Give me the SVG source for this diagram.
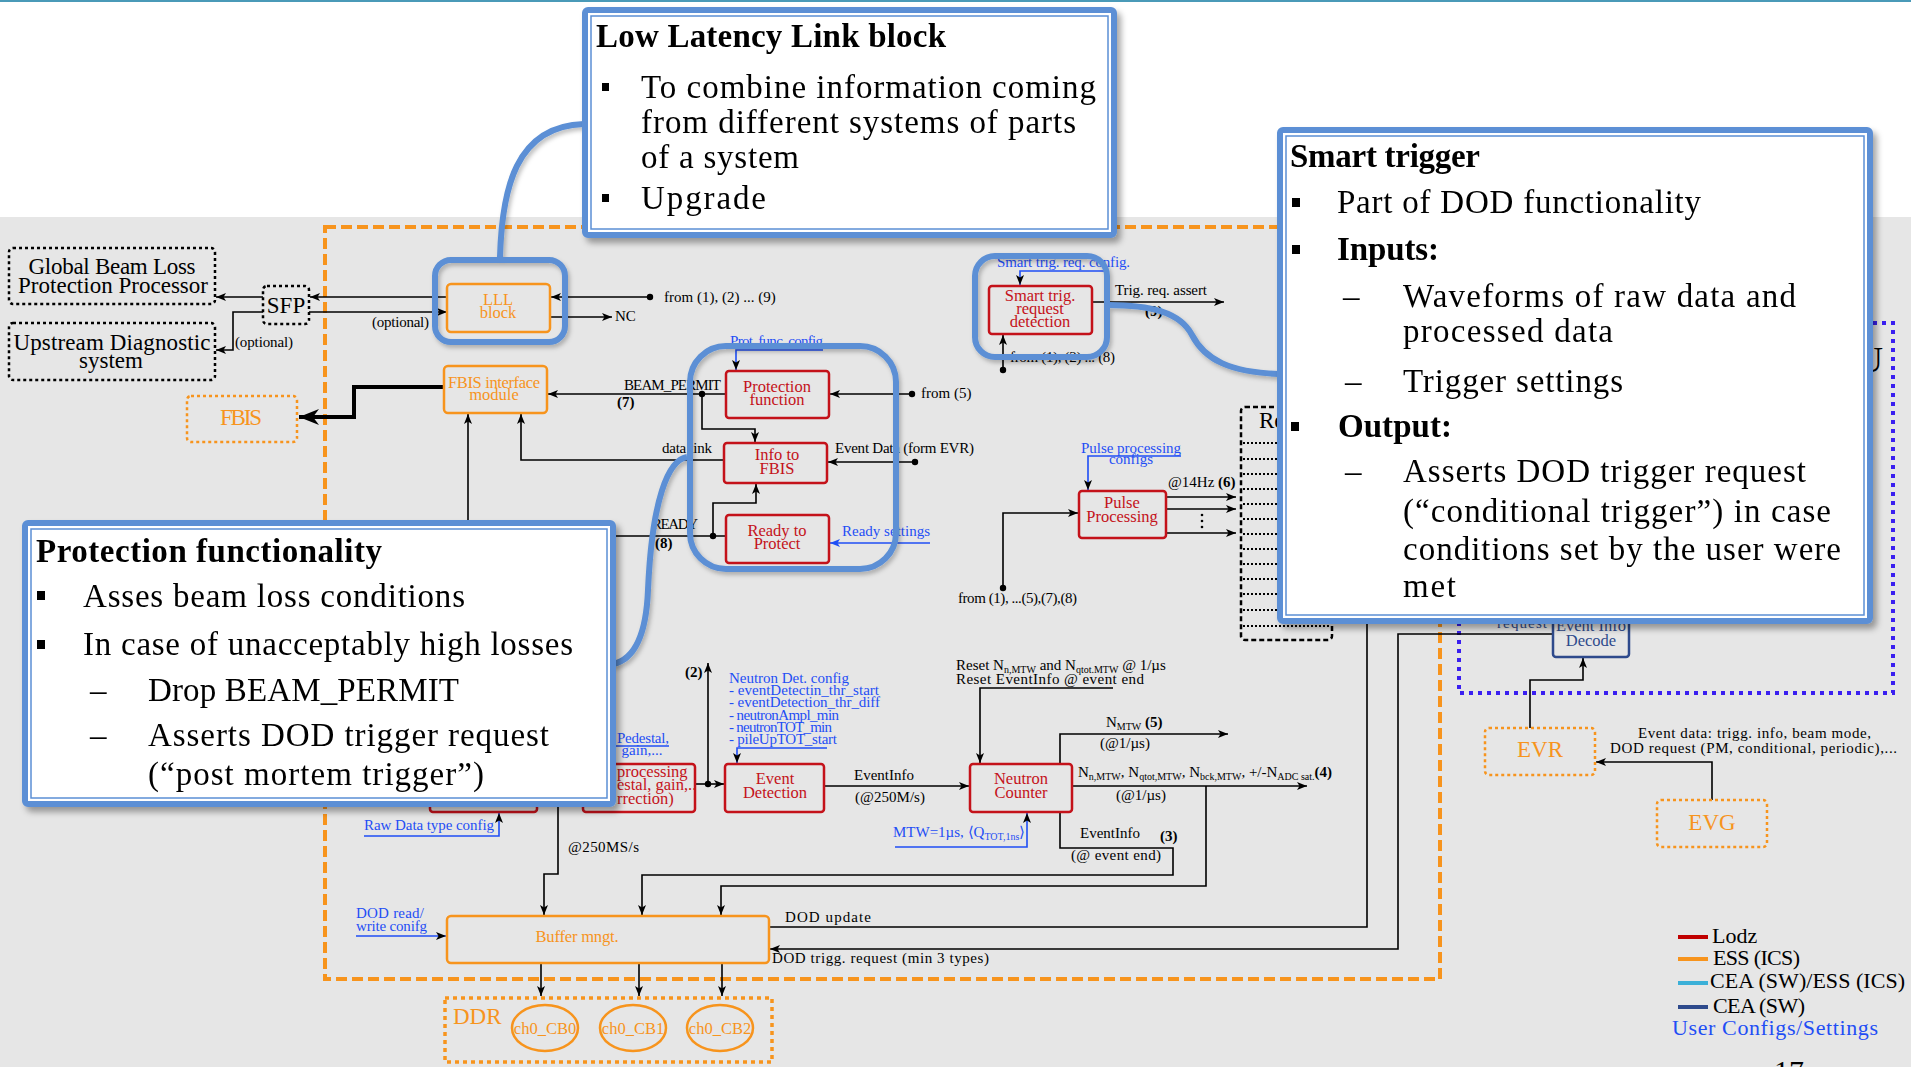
<svg xmlns="http://www.w3.org/2000/svg" width="1911" height="1067" viewBox="0 0 1911 1067">
<style>
text{font-family:"Liberation Serif","Times New Roman",serif;fill:#000}
.l{font-size:15px}
.s{font-size:10px}
.bx{font-size:16.5px;text-anchor:middle}
.big{font-size:23px;text-anchor:middle}
.st{text-anchor:start}
.red{fill:#c4121a}
.org{fill:#f7941d}
.cfg{fill:#1f4ef5}
.dkb{fill:#2e4a8c}
.co{font-size:33px}
.b{font-weight:bold}
.ln{stroke:#000;stroke-width:1.6;fill:none}
.lnb{stroke:#1f4ef5;stroke-width:1.6;fill:none}
.rbox{fill:none;stroke:#c4121a;stroke-width:2.5}
.obox{fill:none;stroke:#f7941d;stroke-width:2.5}
.odot{fill:none;stroke:#f7941d;stroke-width:2.5;stroke-dasharray:3 3}
.kdot{fill:none;stroke:#000;stroke-width:2.5;stroke-dasharray:3 3}
.hl{fill:none;stroke:#5b8fd5;stroke-width:6}
.cout{fill:#fff;stroke:#5b8fd5;stroke-width:6}
.cin{fill:#fff;stroke:#5b8fd5;stroke-width:1.5}
</style>
<defs>
<marker id="ar" markerUnits="userSpaceOnUse" markerWidth="11" markerHeight="9" refX="10" refY="4" orient="auto">
<path d="M0,0 L10,4 L0,8 L2.5,4 z" fill="#000"/>
</marker>
<marker id="arb" markerUnits="userSpaceOnUse" markerWidth="11" markerHeight="9" refX="10" refY="4" orient="auto">
<path d="M0,0 L10,4 L0,8 L2.5,4 z" fill="#1f4ef5"/>
</marker>
<marker id="arbig" markerUnits="userSpaceOnUse" markerWidth="22" markerHeight="18" refX="20" refY="8" orient="auto">
<path d="M0,0 L20,8 L0,16 L6,8 z" fill="#000"/>
</marker>
<filter id="sh" x="-5%" y="-5%" width="112%" height="115%">
<feDropShadow dx="4" dy="5" stdDeviation="3" flood-color="#000" flood-opacity="0.35"/>
</filter>
<filter id="sh2" x="-10%" y="-10%" width="125%" height="125%">
<feDropShadow dx="2" dy="3" stdDeviation="2" flood-color="#000" flood-opacity="0.25"/>
</filter>
</defs>

<!-- page background -->
<rect x="0" y="0" width="1911" height="1067" fill="#fff"/>
<rect x="0" y="217" width="1911" height="850" fill="#e6e6e6"/>
<rect x="0" y="0" width="1911" height="2" fill="#4a9ab8"/>

<!-- frames -->
<g id="frames">
<rect x="325" y="227" width="1115" height="752" fill="none" stroke="#f7941d" stroke-width="4" stroke-dasharray="11 5"/>
<rect x="1459" y="323" width="434" height="370" fill="none" stroke="#3a1ff0" stroke-width="4" stroke-dasharray="4 5"/>
</g>

<!-- connectors -->
<g id="connectors">
<path class="ln" d="M447,297 H310" marker-end="url(#ar)"/>
<path class="ln" d="M263,297 H216" marker-end="url(#ar)"/>
<path class="ln" d="M309,312 H447" marker-end="url(#ar)"/>
<path class="ln" d="M263,312 H233 V350 H216" marker-end="url(#ar)"/>
<path class="ln" d="M650,297 H551" marker-end="url(#ar)"/>
<circle cx="650" cy="297" r="3.2"/>
<path class="ln" d="M550,317 H612" marker-end="url(#ar)"/>
<path d="M444,387 H354 V417 H299" fill="none" stroke="#000" stroke-width="4" marker-end="url(#arbig)"/>
<path class="ln" d="M468,560 V414" marker-end="url(#ar)"/>
<path class="ln" d="M724,460 H521 V414" marker-end="url(#ar)"/>
<path class="ln" d="M726,394 H548" marker-end="url(#ar)"/>
<circle cx="702" cy="394" r="3.2"/>
<path class="ln" d="M702,394 V429 H755 V442" marker-end="url(#ar)"/>
<path class="ln" d="M912,394 H830" marker-end="url(#ar)"/>
<circle cx="912" cy="394" r="3.2"/>
<path class="ln" d="M915,462 H828" marker-end="url(#ar)"/>
<circle cx="915" cy="462" r="3.2"/>
<path class="ln" d="M726,536 H560"/>
<circle cx="713" cy="536" r="3.2"/>
<path class="ln" d="M713,536 V503 H756 V484" marker-end="url(#ar)"/>
<path class="lnb" d="M930,543 H830" marker-end="url(#arb)"/>
<path class="lnb" d="M823,350 H736 V370" marker-end="url(#ar)"/>
<path class="lnb" d="M1105,271 H1020 V285" marker-end="url(#ar)"/>
<path class="ln" d="M1092,302 H1224" marker-end="url(#ar)"/>
<path class="ln" d="M1003,370 V335" marker-end="url(#ar)"/>
<circle cx="1003" cy="370" r="3.2"/>
<path class="lnb" d="M1181,456 H1088 V490" marker-end="url(#ar)"/>
<path class="ln" d="M1003,588 V513 H1078" marker-end="url(#ar)"/>
<circle cx="1003" cy="588" r="3.2"/>
<path class="ln" d="M1166,497 H1236" marker-end="url(#ar)"/>
<path class="ln" d="M1166,509 H1236" marker-end="url(#ar)"/>
<path class="ln" d="M1166,533 H1236" marker-end="url(#ar)"/>
<circle cx="1202" cy="515" r="1.3"/><circle cx="1202" cy="521" r="1.3"/><circle cx="1202" cy="527" r="1.3"/>
<path class="ln" d="M695,784 H724" marker-end="url(#ar)"/>
<circle cx="708" cy="784" r="3.2"/>
<path class="ln" d="M708,784 V663" marker-end="url(#ar)"/>
<path class="lnb" d="M827,748 H737 V763" marker-end="url(#ar)"/>
<path class="ln" d="M824,786 H969" marker-end="url(#ar)"/>
<path class="ln" d="M1113,688 H980 V763" marker-end="url(#ar)"/>
<path class="lnb" d="M895,847 H1027 V813" marker-end="url(#ar)"/>
<path class="ln" d="M1060,764 V734 H1228" marker-end="url(#ar)"/>
<path class="ln" d="M1072,786 H1307" marker-end="url(#ar)"/>
<path class="ln" d="M1060,812 V848 H1173 V875 H642 V915" marker-end="url(#ar)"/>
<path class="ln" d="M1206,786 V886 H721 V915" marker-end="url(#ar)"/>
<path class="ln" d="M558,807 V874 H544 V915" marker-end="url(#ar)"/>
<path class="lnb" d="M669,746 H616"/>
<path class="lnb" d="M364,836 H499 V813" marker-end="url(#ar)"/>
<path class="lnb" d="M356,936 H446" marker-end="url(#ar)"/>
<path class="ln" d="M769,927 H1367 V620"/>
<path class="ln" d="M1553,634 H1398 V949 H770" marker-end="url(#ar)"/>
<path class="ln" d="M541,963 V996" marker-end="url(#ar)"/>
<path class="ln" d="M639,963 V996" marker-end="url(#ar)"/>
<path class="ln" d="M722,963 V996" marker-end="url(#ar)"/>
<path class="ln" d="M1712,800 V762 H1596" marker-end="url(#ar)"/>
<path class="ln" d="M1530,728 V680 H1583 V658" marker-end="url(#ar)"/>
</g>

<!-- connector labels -->
<g id="labels">
<text class="l" x="664" y="302">from (1), (2) ... (9)</text>
<text class="l" x="615" y="321">NC</text>
<text class="l" x="372" y="327" textLength="57">(optional)</text>
<text class="l" x="235" y="347" textLength="58">(optional)</text>
<text class="l" x="624" y="390" textLength="97">BEAM_PERMIT</text>
<text class="l b" x="617" y="407">(7)</text>
<text class="l" x="662" y="453" textLength="50">data link</text>
<text class="l" x="835" y="453" textLength="139">Event Data (form EVR)</text>
<text class="l" x="921" y="398">from (5)</text>
<text class="l" x="652" y="529" textLength="46">READY</text>
<text class="l b" x="655" y="548">(8)</text>
<text class="l cfg" x="842" y="536" textLength="88">Ready settings</text>
<text class="l cfg" x="730" y="346" textLength="93">Prot. func. config</text>
<text class="l cfg" x="997" y="267" textLength="133">Smart trig. req. config.</text>
<text class="l" x="1115" y="295" textLength="92">Trig. req. assert</text>
<text class="l b" x="1145" y="316">(9)</text>
<text class="l" x="1010" y="362" textLength="105">from (1), (2) ... (8)</text>
<text class="l cfg" x="1131" y="453" text-anchor="middle" textLength="100">Pulse processing</text>
<text class="l cfg" x="1131" y="464" text-anchor="middle">configs</text>
<text class="l" x="1168" y="487">@14Hz <tspan class="b">(6)</tspan></text>
<text class="l" x="958" y="603" textLength="119">from (1), ...(5),(7),(8)</text>
<text class="l b" x="685" y="677">(2)</text>
<text class="l cfg" x="729" y="683" textLength="120">Neutron Det. config</text>
<text class="l cfg" x="729" y="695" textLength="150">- eventDetectin_thr_start</text>
<text class="l cfg" x="729" y="707" textLength="151">- eventDetection_thr_diff</text>
<text class="l cfg" x="729" y="720" textLength="110">- neutronAmpl_min</text>
<text class="l cfg" x="729" y="732" textLength="103">- neutronTOT_min</text>
<text class="l cfg" x="729" y="744" textLength="108">- pileUpTOT_start</text>
<text class="l" x="956" y="670">Reset N<tspan class="s" dy="3">n,MTW</tspan><tspan dy="-3"> and N</tspan><tspan class="s" dy="3">qtot.MTW</tspan><tspan dy="-3"> @ 1/µs</tspan></text>
<text class="l" x="956" y="684" textLength="188">Reset EventInfo @ event end</text>
<text class="l" x="854" y="780" textLength="60">EventInfo</text>
<text class="l" x="855" y="802" textLength="70">(@250M/s)</text>
<text class="l cfg" x="893" y="837">MTW=1µs, ⟨Q<tspan class="s" dy="3">TOT,1ns</tspan><tspan dy="-3">⟩</tspan></text>
<text class="l" x="1106" y="727">N<tspan class="s" dy="3">MTW</tspan><tspan dy="-3" class="b">  (5)</tspan></text>
<text class="l" x="1100" y="748">(@1/µs)</text>
<text class="l" x="1078" y="777">N<tspan class="s" dy="3">n,MTW</tspan><tspan dy="-3">, N</tspan><tspan class="s" dy="3">qtot,MTW</tspan><tspan dy="-3">, N</tspan><tspan class="s" dy="3">bck,MTW</tspan><tspan dy="-3">, +/-N</tspan><tspan class="s" dy="3">ADC sat.</tspan><tspan dy="-3" class="b">(4)</tspan></text>
<text class="l" x="1116" y="800">(@1/µs)</text>
<text class="l" x="1080" y="838">EventInfo</text>
<text class="l b" x="1160" y="841">(3)</text>
<text class="l" x="1071" y="860" textLength="90">(@ event end)</text>
<text class="l" x="568" y="852" textLength="71">@250MS/s</text>
<text class="l cfg" x="617" y="743" textLength="52">Pedestal,</text>
<text class="l cfg" x="642" y="755" text-anchor="middle">gain,...</text>
<text class="l cfg" x="364" y="830" textLength="130">Raw Data type config</text>
<text class="l cfg" x="356" y="918" textLength="68">DOD read/</text>
<text class="l cfg" x="356" y="931" textLength="71">write conifg</text>
<text class="l" x="785" y="922" textLength="86">DOD update</text>
<text class="l" x="772" y="963" textLength="217">DOD trigg. request (min 3 types)</text>
<text class="l" x="1638" y="738" textLength="233">Event data: trigg. info, beam mode,</text>
<text class="l" x="1610" y="753" textLength="287">DOD request (PM, conditional, periodic),...</text>
</g>

<!-- nodes -->
<g id="global-blpp">
<rect class="kdot" x="9" y="248" width="206" height="56" rx="4"/>
<text class="big" x="112" y="274" textLength="167">Global Beam Loss</text>
<text class="big" x="113" y="293" textLength="190">Protection Processor</text>
</g>
<g id="upstream">
<rect class="kdot" x="9" y="323" width="206" height="57" rx="4"/>
<text class="big" x="112" y="350" textLength="197">Upstream Diagnostic</text>
<text class="big" x="111" y="368">system</text>
</g>
<g id="sfp">
<rect class="kdot" x="263" y="286" width="46" height="38" rx="4"/>
<text class="big" x="286" y="313" font-size="22">SFP</text>
</g>
<g id="fbis">
<rect class="odot" x="187" y="396" width="110" height="46" rx="4"/>
<text class="big org" x="241" y="425" textLength="42">FBIS</text>
</g>
<g id="lll-block">
<rect class="obox" x="447" y="284" width="103" height="48" rx="4"/>
<text class="bx org" x="498" y="305">LLL</text>
<text class="bx org" x="498" y="318">block</text>
</g>
<g id="fbis-interface">
<rect class="obox" x="444" y="366" width="103" height="47" rx="4"/>
<text class="bx org" x="494" y="388" font-size="16" textLength="92">FBIS interface</text>
<text class="bx org" x="494" y="400" font-size="16">module</text>
</g>
<g id="protection-function">
<rect class="rbox" x="726" y="371" width="103" height="47" rx="3"/>
<text class="bx red" x="777" y="392">Protection</text>
<text class="bx red" x="777" y="405">function</text>
</g>
<g id="info-to-fbis">
<rect class="rbox" x="724" y="443" width="103" height="40" rx="3"/>
<text class="bx red" x="777" y="460">Info to</text>
<text class="bx red" x="777" y="474">FBIS</text>
</g>
<g id="ready-to-protect">
<rect class="rbox" x="726" y="515" width="103" height="48" rx="3"/>
<text class="bx red" x="777" y="536">Ready to</text>
<text class="bx red" x="777" y="549">Protect</text>
</g>
<g id="smart-trig-detection">
<rect class="rbox" x="989" y="286" width="103" height="48" rx="3"/>
<text class="bx red" x="1040" y="301">Smart trig.</text>
<text class="bx red" x="1040" y="314">request</text>
<text class="bx red" x="1040" y="327">detection</text>
</g>
<g id="pulse-processing">
<rect class="rbox" x="1079" y="491" width="87" height="47" rx="3"/>
<text class="bx red" x="1122" y="508">Pulse</text>
<text class="bx red" x="1122" y="522">Processing</text>
</g>
<g id="registers">
<rect x="1241" y="407" width="91" height="233" rx="4" fill="none" stroke="#000" stroke-width="2.5" stroke-dasharray="5 3"/>
<text class="big st" x="1259" y="428">Re</text>
<g stroke="#000" stroke-width="2" stroke-dasharray="2 2">
<path d="M1243,443 H1330 M1243,459 H1330 M1243,474 H1330 M1243,489 H1330 M1243,504 H1330 M1243,519 H1330 M1243,534 H1330 M1243,549 H1330 M1243,564 H1330 M1243,579 H1330 M1243,594 H1330 M1243,610 H1330 M1243,626 H1330"/>
</g>
</g>
<g id="raw-data">
<rect class="rbox" x="430" y="764" width="107" height="48" rx="3"/>
</g>
<g id="pre-processing">
<rect class="rbox" x="583" y="764" width="112" height="48" rx="3"/>
<text class="bx red st" x="617" y="777">processing</text>
<text class="bx red st" x="617" y="790">estal, gain,..</text>
<text class="bx red st" x="617" y="804">rrection)</text>
</g>
<g id="event-detection">
<rect class="rbox" x="725" y="764" width="99" height="48" rx="3"/>
<text class="bx red" x="775" y="784">Event</text>
<text class="bx red" x="775" y="798">Detection</text>
</g>
<g id="neutron-counter">
<rect class="rbox" x="970" y="764" width="102" height="48" rx="3"/>
<text class="bx red" x="1021" y="784">Neutron</text>
<text class="bx red" x="1021" y="798">Counter</text>
</g>
<g id="buffer-mngt">
<rect class="obox" x="447" y="916" width="322" height="47" rx="4"/>
<text class="bx org" x="577" y="942" textLength="83">Buffer mngt.</text>
</g>
<g id="ddr">
<rect x="445" y="998" width="327" height="64" fill="none" stroke="#f7941d" stroke-width="3.5" stroke-dasharray="4 4"/>
<text class="big org st" x="453" y="1024">DDR</text>
<ellipse cx="545" cy="1028" rx="33" ry="23" class="obox"/>
<ellipse cx="633" cy="1028" rx="33" ry="23" class="obox"/>
<ellipse cx="720" cy="1028" rx="33" ry="23" class="obox"/>
<text class="bx org" x="545" y="1034" font-size="16">ch0_CB0</text>
<text class="bx org" x="633" y="1034" font-size="16">ch0_CB1</text>
<text class="bx org" x="720" y="1034" font-size="16">ch0_CB2</text>
</g>
<g id="event-info-decode">
<text class="l dkb" x="1497" y="628" textLength="50">request</text>
<rect x="1553" y="605" width="76" height="52" rx="3" fill="none" stroke="#2e4a8c" stroke-width="2.5"/>
<text class="bx dkb" x="1591" y="631">Event Info</text>
<text class="bx dkb" x="1591" y="646">Decode</text>
</g>
<text x="1883" y="372" font-size="36" text-anchor="end" fill="#3a1ff0">U</text>
<g id="evr">
<rect class="odot" x="1485" y="728" width="110" height="47" rx="4"/>
<text class="big org" x="1540" y="757">EVR</text>
</g>
<g id="evg">
<rect class="odot" x="1657" y="800" width="110" height="47" rx="4"/>
<text class="big org" x="1712" y="830">EVG</text>
</g>

<!-- highlight rings and their leaders -->
<g id="highlights" filter="url(#sh2)">
<rect class="hl" x="435" y="260" width="130" height="82" rx="16"/>
<rect class="hl" x="690" y="346" width="206" height="223" rx="36"/>
<rect class="hl" x="975" y="256" width="132" height="101" rx="20"/>
<path class="hl" stroke-width="5" d="M500,257 C502,190 515,126 584,124"/>
<path class="hl" stroke-width="5" d="M1108,305 C1150,305 1180,312 1192,335 C1205,360 1230,372 1278,374"/>
<path class="hl" stroke-width="5" d="M687,457 C668,460 652,500 648,590 C646,640 632,660 613,664"/>
</g>

<!-- callouts -->
<g id="callout-lll" filter="url(#sh)">
<rect class="cout" x="585" y="10" width="529" height="225" rx="3"/>
<rect class="cin" x="591" y="16" width="517" height="213"/>
<text class="co b" x="596" y="47" textLength="350">Low Latency Link block</text>
<rect x="602" y="83" width="7" height="8"/>
<text class="co" x="641" y="98" textLength="455">To combine information coming</text>
<text class="co" x="641" y="133" textLength="435">from different systems of parts</text>
<text class="co" x="641" y="168" textLength="158">of a system</text>
<rect x="602" y="194" width="7" height="8"/>
<text class="co" x="641" y="209" textLength="125">Upgrade</text>
</g>
<g id="callout-smart-trigger" filter="url(#sh)">
<rect class="cout" x="1280" y="130" width="590" height="491" rx="3"/>
<rect class="cin" x="1286" y="136" width="578" height="479"/>
<text class="co b" x="1290" y="167" textLength="190">Smart trigger</text>
<rect x="1292" y="198" width="8" height="9"/>
<text class="co" x="1337" y="213" textLength="364">Part of DOD functionality</text>
<rect x="1292" y="245" width="8" height="9"/>
<text class="co b" x="1337" y="260" textLength="102">Inputs:</text>
<text class="co" x="1343" y="307">–</text>
<text class="co" x="1403" y="307" textLength="393">Waveforms of raw data and</text>
<text class="co" x="1403" y="342" textLength="210">processed data</text>
<text class="co" x="1345" y="392">–</text>
<text class="co" x="1403" y="392" textLength="220">Trigger settings</text>
<rect x="1291" y="422" width="8" height="9"/>
<text class="co b" x="1338" y="437" textLength="114">Output:</text>
<text class="co" x="1345" y="482">–</text>
<text class="co" x="1403" y="482" textLength="403">Asserts DOD trigger request</text>
<text class="co" x="1403" y="522" textLength="428">(“conditional trigger”)  in case</text>
<text class="co" x="1403" y="560" textLength="438">conditions set by the user were</text>
<text class="co" x="1403" y="597" textLength="53">met</text>
</g>
<g id="callout-protection" filter="url(#sh)">
<rect class="cout" x="25" y="523" width="588" height="281" rx="3"/>
<rect class="cin" x="31" y="529" width="576" height="269"/>
<text class="co b" x="36" y="562" textLength="346">Protection functionality</text>
<rect x="37" y="591" width="8" height="9"/>
<text class="co" x="83" y="607" textLength="382">Asses beam loss conditions</text>
<rect x="37" y="640" width="8" height="9"/>
<text class="co" x="83" y="655" textLength="490">In case of unacceptably high losses</text>
<text class="co" x="90" y="701">–</text>
<text class="co" x="148" y="701" textLength="311">Drop BEAM_PERMIT</text>
<text class="co" x="90" y="746">–</text>
<text class="co" x="148" y="746" textLength="401">Asserts DOD trigger request</text>
<text class="co" x="148" y="785" textLength="336">(“post mortem trigger”)</text>
</g>

<!-- legend -->
<g id="legend">
<path d="M1678,937 H1708" stroke="#c00000" stroke-width="4"/>
<path d="M1678,959 H1708" stroke="#f7941d" stroke-width="4"/>
<path d="M1678,983 H1708" stroke="#3bb0d8" stroke-width="4"/>
<path d="M1678,1007 H1708" stroke="#2e4a8c" stroke-width="4"/>
<text x="1712" y="943" font-size="22">Lodz</text>
<text x="1713" y="965" font-size="22" textLength="87">ESS (ICS)</text>
<text x="1710" y="988" font-size="22" textLength="195">CEA (SW)/ESS (ICS)</text>
<text x="1713" y="1013" font-size="22" textLength="92">CEA (SW)</text>
<text class="cfg" x="1672" y="1035" font-size="22" textLength="206">User Configs/Settings</text>
<text x="1774" y="1081" font-size="30" fill="#999">17</text>
</g>
</svg>
